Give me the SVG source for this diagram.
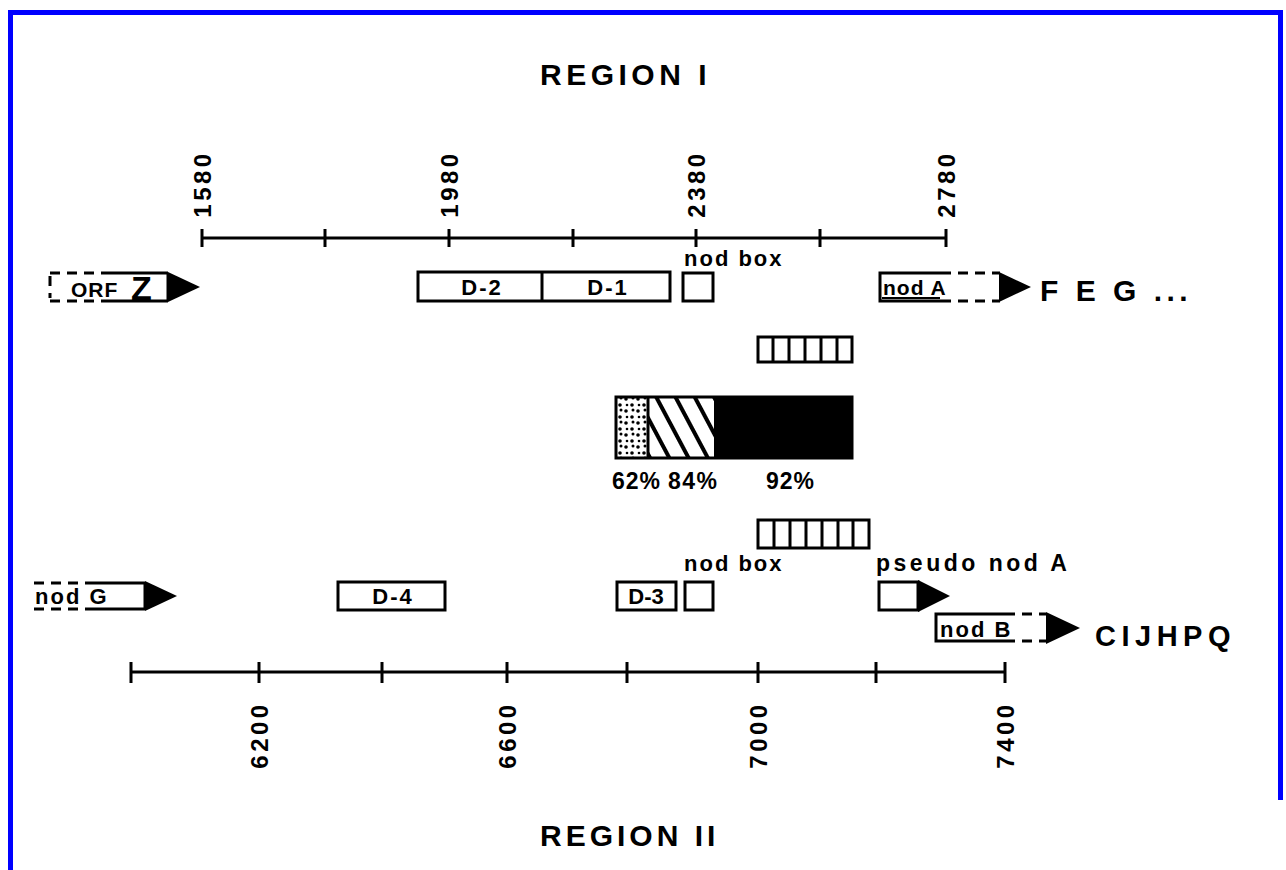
<svg xmlns="http://www.w3.org/2000/svg" width="1286" height="870" viewBox="0 0 1286 870">
<defs>
<style>
.t{font-family:"Liberation Sans",Arial,sans-serif;font-weight:bold;fill:#000}
.ax{stroke:#000;stroke-width:3;fill:none}
.bx{stroke:#000;stroke-width:3;fill:#fff}
.ds{stroke:#000;stroke-width:3;fill:none;stroke-dasharray:10 7}
.ar{fill:#000}
.lb{font-size:22px;letter-spacing:2px}
</style>
<pattern id="dots" width="12" height="12" patternUnits="userSpaceOnUse">
<circle cx="2" cy="3" r="1.8" fill="#000"/><circle cx="8" cy="9" r="1.8" fill="#000"/><circle cx="9" cy="2" r="1.5" fill="#000"/><circle cx="3" cy="9" r="1.3" fill="#000"/>
</pattern>
<pattern id="hatch" width="17" height="17" patternUnits="userSpaceOnUse" patternTransform="rotate(-28)">
<rect width="17" height="17" fill="#fff"/><line x1="2" y1="0" x2="2" y2="17" stroke="#000" stroke-width="4"/>
</pattern>
</defs>
<rect x="0" y="0" width="1286" height="870" fill="#fff"/>
<path d="M10.5,870 V12.5 H1280.5 V800" fill="none" stroke="#00f" stroke-width="5"/>

<text class="t" x="540" y="85" font-size="30" letter-spacing="4.5">REGION I</text>
<text class="t" x="540" y="846" font-size="30" letter-spacing="4">REGION II</text>

<g id="axis-top">
<line class="ax" x1="202" y1="238" x2="946" y2="238"/>
<path class="ax" d="M202,229V247M325,229V247M449,229V247M573,229V247M696,229V247M820,229V247M946,229V247"/>
<g class="t" font-size="24" letter-spacing="3.5" text-anchor="middle">
<text transform="translate(211,184) rotate(-90)">1580</text>
<text transform="translate(458,184) rotate(-90)">1980</text>
<text transform="translate(705,184) rotate(-90)">2380</text>
<text transform="translate(955,184) rotate(-90)">2780</text>
</g>
</g>

<g id="axis-bottom">
<line class="ax" x1="131" y1="672" x2="1005" y2="672"/>
<path class="ax" d="M131,662V683M259,662V683M382,662V683M507,662V683M627,662V683M758,662V683M876,662V683M1005,662V683"/>
<g class="t" font-size="24" letter-spacing="3.5" text-anchor="middle">
<text transform="translate(268,735) rotate(-90)">6200</text>
<text transform="translate(516,735) rotate(-90)">6600</text>
<text transform="translate(767,735) rotate(-90)">7000</text>
<text transform="translate(1014,735) rotate(-90)">7400</text>
</g>
</g>

<g id="orfZ">
<path class="ds" d="M50,273H108M50,301H108"/>
<path class="ds" d="M50,276V298" stroke-dasharray="6 10"/>
<path class="ax" d="M108,273H168M108,301H168M168,273V301"/>
<polygon class="ar" points="168,272 200,287 168,302"/>
<text class="t" x="71" y="297" font-size="21" letter-spacing="1">ORF</text>
<text class="t" x="131" y="300" font-size="34">Z</text>
</g>

<g id="D2-D1">
<rect class="bx" x="418" y="272" width="252" height="29"/>
<line class="ax" x1="542" y1="272" x2="542" y2="301"/>
<text class="t lb" x="482" y="295" text-anchor="middle" letter-spacing="3">D-2</text>
<text class="t lb" x="608" y="295" text-anchor="middle" letter-spacing="3">D-1</text>
</g>

<g id="nodbox1">
<rect class="bx" x="683" y="273" width="30" height="28"/>
<text class="t lb" x="684" y="266" letter-spacing="2.5">nod box</text>
</g>

<g id="nodA">
<path class="ax" d="M941,273H880V301H941"/>
<path class="ds" d="M941,273H1000M941,301H1000"/>
<polygon class="ar" points="999,272 1031,287 999,302"/>
<text class="t" x="883" y="295" font-size="21" letter-spacing="1">nod A</text>
<line x1="882" y1="298" x2="940" y2="298" stroke="#000" stroke-width="2"/>
<text class="t" x="1040" y="301" font-size="30" letter-spacing="4.5">F  E  G ...</text>
</g>

<g id="stripes1">
<rect class="bx" x="758" y="337" width="94" height="25"/>
<path class="ax" d="M773,337V362M789,337V362M805,337V362M821,337V362M837,337V362"/>
</g>

<g id="homology-bar">
<rect x="616" y="397" width="32" height="61" fill="url(#dots)"/>
<rect x="648" y="397" width="66" height="61" fill="url(#hatch)"/>
<rect x="714" y="397" width="138" height="61" fill="#000"/>
<rect x="616" y="397" width="236" height="61" fill="none" stroke="#000" stroke-width="3"/>
<line class="ax" x1="648" y1="397" x2="648" y2="458"/>
<text class="t" x="612" y="489" font-size="23" letter-spacing="1">62%</text>
<text class="t" x="668" y="489" font-size="23" letter-spacing="1.5">84%</text>
<text class="t" x="766" y="489" font-size="23" letter-spacing="1">92%</text>
</g>

<g id="stripes2">
<rect class="bx" x="758" y="520" width="111" height="28"/>
<path class="ax" d="M774,520V548M790,520V548M806,520V548M822,520V548M838,520V548M853,520V548"/>
</g>

<g id="nodG">
<path class="ds" d="M34,583H92M34,609H92"/>
<path class="ax" d="M92,583H145M92,609H145M145,583V609"/>
<polygon class="ar" points="145,581 177,596 145,611"/>
<text class="t lb" x="35" y="604">nod G</text>
</g>

<g id="D4">
<rect class="bx" x="338" y="582" width="107" height="28"/>
<text class="t lb" x="393" y="604" text-anchor="middle" letter-spacing="3">D-4</text>
</g>

<g id="D3">
<rect class="bx" x="617" y="582" width="59" height="28"/>
<text class="t" x="646" y="604" font-size="22" text-anchor="middle">D-3</text>
</g>

<g id="nodbox2">
<rect class="bx" x="685" y="582" width="28" height="28"/>
<text class="t lb" x="684" y="571" letter-spacing="2.5">nod box</text>
</g>

<g id="pseudo-nodA">
<rect class="bx" x="879" y="582" width="39" height="28"/>
<polygon class="ar" points="918,580 950,596 918,612"/>
<text class="t" x="876" y="571" font-size="23" letter-spacing="3.5">pseudo nod A</text>
</g>

<g id="nodB">
<path class="ax" d="M1005,614H936V641H1005"/>
<path class="ds" d="M1005,614H1046M1005,641H1046"/>
<polygon class="ar" points="1046,612 1080,628 1046,644"/>
<text class="t lb" x="940" y="637">nod B</text>
<text class="t" x="1095" y="646" font-size="29" letter-spacing="5.5">CIJHPQ</text>
</g>
</svg>
